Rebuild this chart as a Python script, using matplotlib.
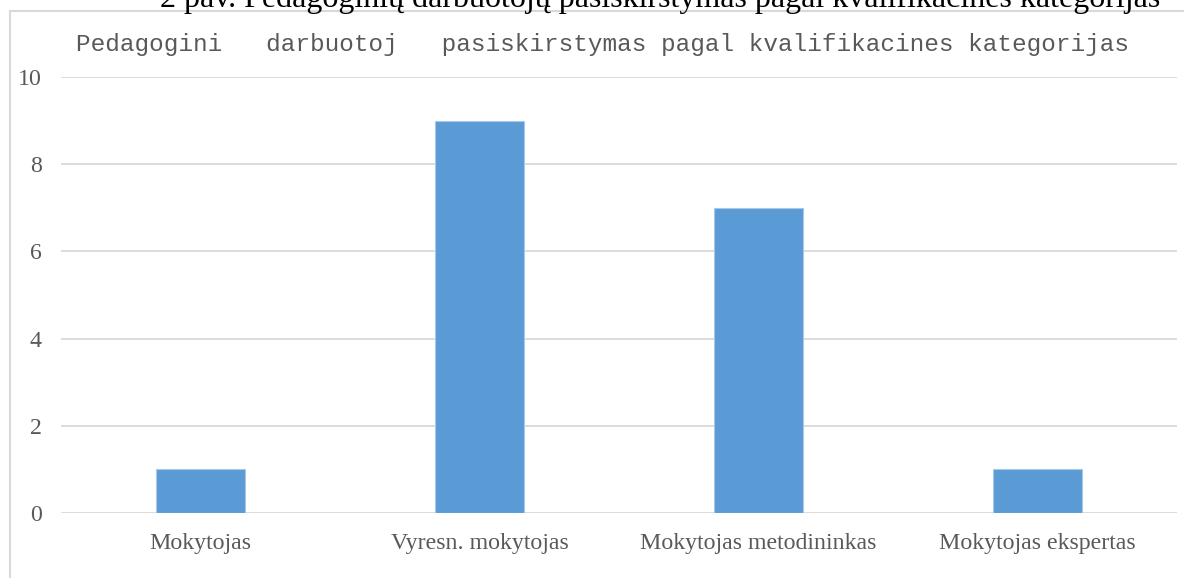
import matplotlib
matplotlib.use("Agg")
from matplotlib import pyplot as plt
from matplotlib.lines import Line2D

categories = ["Mokytojas", "Vyresn. mokytojas", "Mokytojas metodininkas", "Mokytojas ekspertas"]
values = [1, 9, 7, 1]
y_ticks = [0, 2, 4, 6, 8, 10]

caption = "2 pav. Pedagoginių darbuotojų pasiskirstymas pagal kvalifikacines kategorijas"
title = "Pedagogini   darbuotoj   pasiskirstymas pagal kvalifikacines kategorijas"

W, H = 1184, 578
fig = plt.figure(figsize=(W / 100, H / 100), dpi=100)

# axes box in pixel terms: x 61..1177, y 77..513 (from top)
ax = fig.add_axes([61 / W, 1 - 513 / H, (1177 - 61) / W, (513 - 77) / H])

x = list(range(len(categories)))
ax.bar(x, values, width=0.32, color="#5b9bd5", edgecolor="#a9c8e8", linewidth=0.8, zorder=3)

ax.set_xlim(-0.5, len(categories) - 0.5)
ax.set_ylim(0, 10)
ax.set_yticks(y_ticks)
ax.set_xticks(x)
ax.set_xticklabels(categories)
ax.grid(axis="y", color="#d9d9d9", linewidth=1.3, zorder=0)
for spine in ax.spines.values():
    spine.set_visible(False)
ax.tick_params(axis="both", length=0, colors="#595959", labelsize=17.2)
ax.tick_params(axis="x", pad=14.5)
ax.tick_params(axis="y", pad=14)
for lbl in ax.get_xticklabels() + ax.get_yticklabels():
    lbl.set_family("Liberation Serif")

# chart frame (cut off at right and bottom)
fig.add_artist(Line2D([10 / W, 10 / W], [0, 1 - 11 / H], color="#d9d9d9", linewidth=1.5))
fig.add_artist(Line2D([10 / W, 1], [1 - 11 / H, 1 - 11 / H], color="#d9d9d9", linewidth=1.5))

fig.text(603 / W, 1 - 44 / H, title, family="Liberation Mono", fontsize=17.6,
         color="#595959", ha="center", va="center")
fig.text(660 / W, 1 - 7 / H, caption, family="Liberation Serif", fontsize=23,
         color="black", ha="center", va="baseline")

fig.savefig("out.png", dpi=100)
